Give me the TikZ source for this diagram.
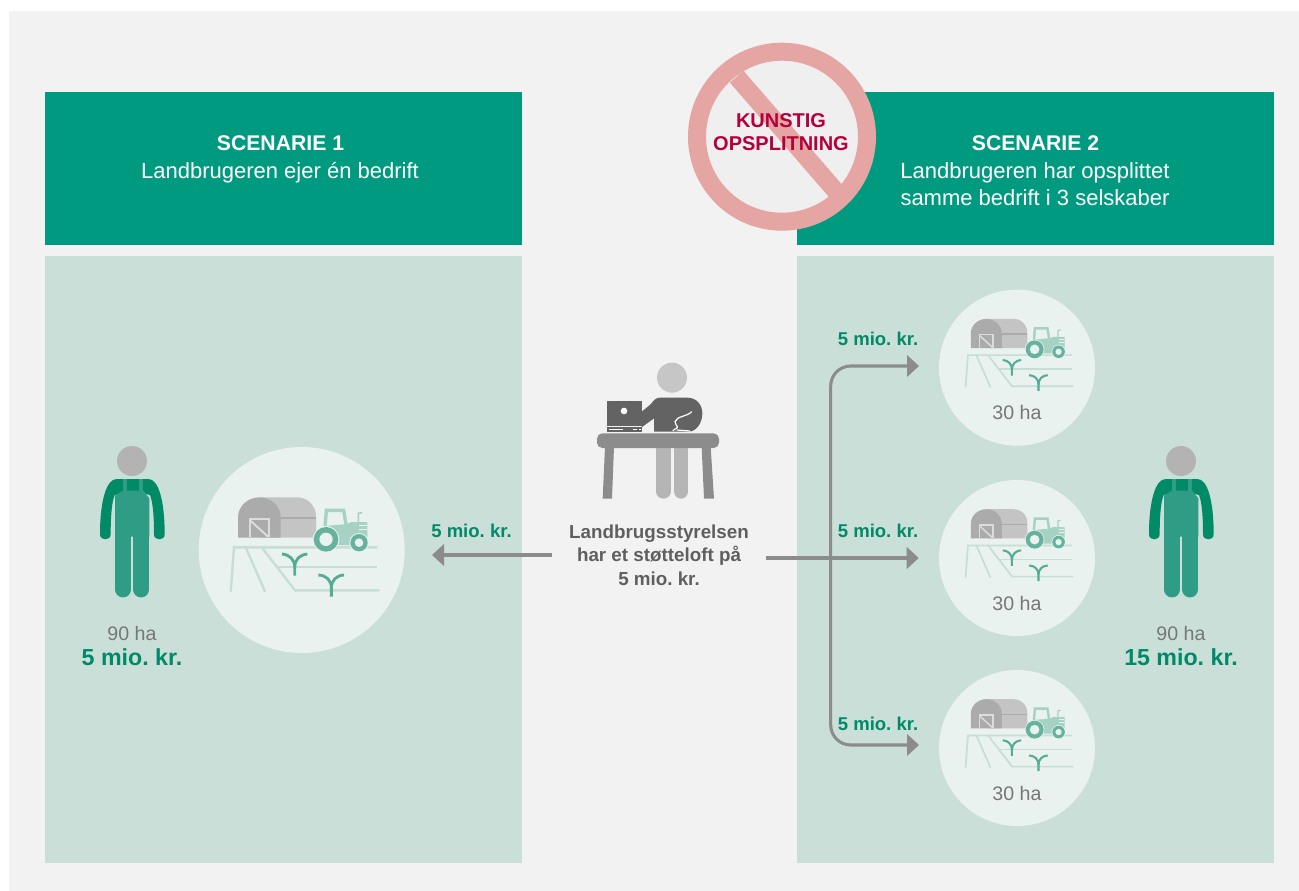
\documentclass[tikz,border=0pt]{standalone}
\usepackage{fontspec}
\setmainfont{Liberation Sans}
\frenchspacing
\usetikzlibrary{arrows.meta}
\definecolor{panelgrey}{HTML}{F2F2F2}
\definecolor{headgreen}{HTML}{009A80}
\definecolor{lightgreen}{HTML}{CADFD7}
\definecolor{circgreen}{HTML}{E9F2EF}
\definecolor{textgreen}{HTML}{008A69}
\definecolor{armgreen}{HTML}{008A66}
\definecolor{suitgreen}{HTML}{2F9D85}
\definecolor{arrowgrey}{HTML}{8C8C8C}
\definecolor{fieldline}{HTML}{C6DED5}
\definecolor{sprout}{HTML}{55AB94}
\definecolor{wheelgreen}{HTML}{66B29C}
\definecolor{tractorgreen}{HTML}{A6D2C3}
\definecolor{barnfront}{HTML}{ABABAB}
\definecolor{barnback}{HTML}{C4C4C4}
\definecolor{headgrey}{HTML}{B3B3B3}
\definecolor{deskgrey}{HTML}{8C8C8C}
\definecolor{legsgrey}{HTML}{B5B5B5}
\definecolor{darkgrey}{HTML}{636363}
\definecolor{textgrey}{HTML}{5F5F5F}
\definecolor{signred}{HTML}{E5A5A2}
\definecolor{signfill}{HTML}{EFEFEF}
\definecolor{signtext}{HTML}{B5003C}
\tikzset{
  x=.75pt,y=-.75pt,
  lbl/.style={anchor=base,inner sep=0pt,outer sep=0pt,font=\fontsize{#1}{#1}\selectfont},
  hbold/.style={lbl=15.9,text=white,font=\fontsize{15.9}{15.9}\selectfont\bfseries},
  hreg/.style={lbl=16.5,text=white},
  smoney/.style={lbl=13.9,text=textgreen,font=\fontsize{13.9}{13.9}\selectfont\bfseries},
  bmoney/.style={lbl=17.4,text=textgreen,font=\fontsize{17.4}{17.4}\selectfont\bfseries},
  hatext/.style={lbl=14.7,text=textgrey!85},
  signlbl/.style={lbl=15,text=signtext,font=\fontsize{15}{15}\selectfont\bfseries},
  farmcirc/.style={circle,fill=circgreen,inner sep=0pt,minimum size=#1*.75pt},
  conn/.style={draw=arrowgrey,line width=2.3pt},
  connhead/.style={-{Triangle[length=9pt,width=16pt]}},
}
% farm icon: coordinates are those of the large icon in a 3x grid
\newcommand{\farmicon}[4]{%
\begin{scope}[shift={(#1,#2)},scale=#3/3,shift={(-665,-360+#4)},line cap=butt]
  \def\u{#3*.25pt}
  \draw[fieldline,line width=7*\u] (452,485)--(462,352)--(892,352);
  \draw[fieldline,line width=7*\u] (497,352)--(555,485);
  \draw[fieldline,line width=7*\u] (545,352)--(645,481)--(898,481);
  \draw[fieldline,line width=7*\u] (590,410)--(892,410);
  \draw[sprout,line width=8.5*\u] (644,437)--(644,412) .. controls (644,388) and (628,374) .. (606,372);
  \draw[sprout,line width=8.5*\u] (644,412) .. controls (644,388) and (660,374) .. (682,372);
  \draw[sprout,line width=8.5*\u] (754,500)--(754,474) .. controls (754,450) and (738,436) .. (715,435);
  \draw[sprout,line width=8.5*\u] (754,474) .. controls (754,450) and (770,436) .. (792,435);
  \fill[barnback] (540,202)--(650,202) .. controls (685,202) and (708,228) .. (708,262)--(708,323)--(540,323)--cycle;
  \draw[barnfront,line width=6*\u] (602,265)--(708,265);
  \fill[barnfront] (474,323)--(474,262) .. controls (474,228) and (504,202) .. (538,202) .. controls (572,202) and (602,228) .. (602,262)--(602,323)--cycle;
  \draw[barnback!60!white,line width=6*\u] (509,322)--(509,267)--(566,267)--(566,322);
  \draw[barnback!60!white,line width=6*\u] (511,272)--(564,320);
  % tractor
  \draw[tractorgreen,line width=10*\u] (735,292)--(739,241)--(791,241)--(798,285);
  \draw[tractorgreen,line width=5*\u] (835,278)--(835,250)--(846,248);
  \fill[tractorgreen] (735,288)--(800,282)--(815,276)--(862,276)--(862,322)--(835,322)--(815,345)--(760,345)--(735,320)--cycle;
  \draw[circgreen,line width=3*\u] (838,287)--(860,287);
  \draw[circgreen,line width=3*\u] (838,299)--(860,299);
  \fill[circgreen] (738,328) circle[radius=40];
  \fill[wheelgreen] (738,328) circle[radius=37];
  \fill[circgreen] (738,328) circle[radius=20];
  \fill[circgreen] (837,338) circle[radius=29];
  \fill[wheelgreen] (837,338) circle[radius=26];
  \fill[circgreen] (837,338) circle[radius=13];
\end{scope}}
% farmer: 3x grid whose origin gives the head at (156,93)
\newcommand{\farmerfig}[2]{%
\begin{scope}[shift={(#1,#2)},scale=1/3,shift={(-156,-93)}]
  \fill[headgrey] (156,93) circle[radius=45];
  \fill[armgreen] (128,147)--(110,147) .. controls (80,147) and (60,210) .. (60,313) .. controls (60,333) and (92,333) .. (92,313) .. controls (92,270) and (94,220) .. (104,195)--(128,190)--cycle;
  \fill[armgreen] (188,147)--(205,147) .. controls (235,147) and (254,210) .. (254,313) .. controls (254,333) and (222,333) .. (222,313) .. controls (222,270) and (220,220) .. (210,195)--(188,190)--cycle;
  \fill[armgreen] (120,147) rectangle (192,190);
  \fill[suitgreen] (105,197)--(128,182)--(190,182)--(208,205)--(208,320)--(105,320)--cycle;
  \fill[suitgreen] (128,147) rectangle (140,190);
  \fill[suitgreen] (178,147) rectangle (190,190);
  \draw[suitgreen,line width=12.2pt,line cap=round] (129.5,300)--(129.5,478);
  \draw[suitgreen,line width=12.2pt,line cap=round] (183.5,300)--(183.5,478);
\end{scope}}
\begin{document}
\begin{tikzpicture}
\useasboundingbox (0,0) rectangle (1299,891);
\fill[white] (0,0) rectangle (1299,891);
\fill[panelgrey] (9,11) rectangle (1299,891);
% headers and panels
\fill[headgreen] (45,92) rectangle (522,245);
\fill[headgreen] (797,92) rectangle (1274,245);
\fill[lightgreen] (45,256) rectangle (522,863);
\fill[lightgreen] (797,256) rectangle (1274,863);
% prohibition sign
\fill[signfill] (782,136.7) circle[radius=85];
\begin{scope}[shift={(670,30)},scale=1/3]
  \draw[signred,line width=13.5pt] (200,140)--(497,483);
\end{scope}
\draw[signred,line width=13.5pt] (782,136.7) circle[radius=85];
\node[signlbl] (kunstig) at (781,127.5) {KUNSTIG};
\node[signlbl] (opsplit) at (781,151) {OPSPLITNING};
% header texts
\node[hbold] (s1) at (280.5,150.5) {SCENARIE 1};
\node[hreg] (s1a) at (280,178.5) {Landbrugeren ejer én bedrift};
\node[hbold] (s2) at (1035.5,150.5) {SCENARIE 2};
\node[hreg] (s2a) at (1035,178.5) {Landbrugeren har opsplittet};
\node[hreg] (s2b) at (1035,205.5) {samme bedrift i 3 selskaber};
% farm circles
\node[farmcirc=206] (c0) at (301.7,550) {};
\node[farmcirc=156] (c1) at (1017,367.7) {};
\node[farmcirc=156] (c2) at (1017,558) {};
\node[farmcirc=156] (c3) at (1017,748) {};
\farmicon{301.7}{550}{1}{0}
\farmicon{1017}{367.7}{.725}{-44}
\farmicon{1017}{558}{.725}{-44}
\farmicon{1017}{748}{.725}{-44}
\node[hatext] (h1) at (1017,419) {30 ha};
\node[hatext] (h2) at (1017,610) {30 ha};
\node[hatext] (h3) at (1017,800) {30 ha};
% farmers
\farmerfig{132}{461}
\farmerfig{1181}{461}
\node[hatext] (f1) at (132,640) {90 ha};
\node[bmoney] (m1) at (132,665) {5 mio. kr.};
\node[hatext] (f2) at (1181,640) {90 ha};
\node[bmoney] (m2) at (1181,665) {15 mio. kr.};
% desk worker
\begin{scope}[shift={(580,350)},scale=1/3]
  \fill[headgrey!75!white] (276,83) circle[radius=45];
  \draw[legsgrey,line width=11pt,line cap=round] (250,290)--(250,424);
  \draw[legsgrey,line width=11pt,line cap=round] (303,290)--(303,424);
  \fill[legsgrey] (228,290) rectangle (272,320);
  \fill[legsgrey] (281,290) rectangle (325,320);
  \fill[deskgrey] (75,290)--(102,290)--(96,446)--(68,446)--cycle;
  \fill[deskgrey] (365,290)--(392,290)--(402,446)--(372,446)--cycle;
  \fill[deskgrey,rounded corners=4pt] (51,250) rectangle (417,294);
  \fill[darkgrey] (82,153) rectangle (185,228);
  \fill[darkgrey] (82,232) rectangle (185,245);
  \fill[white] (132,183) circle[radius=10];
  \draw[white,line width=.75pt] (87,238)--(128,238);
  \draw[white,line width=.75pt,dash pattern=on 3pt off 1.5pt] (158,238)--(182,238);
  \fill[darkgrey] (185,185)--(212,163) .. controls (222,150) and (228,143) .. (240,143)--(322,143) .. controls (350,143) and (367,165) .. (367,190) .. controls (367,218) and (350,245) .. (325,245)--(222,245)--(222,205)--(185,232)--cycle;
  \draw[white,line width=.9pt] (335,185) .. controls (322,200) and (290,198) .. (285,215) .. controls (283,225) and (295,228) .. (292,233) -- (278,242);
  \draw[white,line width=.9pt] (290,240)--(330,243);
\end{scope}
% central label and connectors
\node[inner sep=0pt,minimum width=160.5pt,align=center,text=textgrey,font=\fontsize{14.1}{17.7}\selectfont\bfseries] (lbs) at (659,555) {Landbrugsstyrelsen\\har et støtteloft på\\5 mio. kr.};
\coordinate (t0) at (432,555);
\coordinate (s0) at (lbs.west |- t0);
\draw[conn,connhead] (s0) -- (t0);
\coordinate (j) at (830.7,558);
\coordinate (t1) at (919,366);
\coordinate (t3) at (919,745);
\coordinate (s2x) at (lbs.east |- j);
\draw[conn,connhead] (s2x) -- ([xshift=-15pt]c2.west);
\draw[conn,connhead,rounded corners=15pt] (j) |- (t1);
\draw[conn,connhead,rounded corners=15pt] (j) |- (t3);
\node[smoney] (a0) at (471.5,537.5) {5 mio. kr.};
\node[smoney] (a1) at (878,345) {5 mio. kr.};
\node[smoney] (a2) at (878,537.5) {5 mio. kr.};
\node[smoney] (a3) at (878,730.5) {5 mio. kr.};
\end{tikzpicture}
\end{document}
